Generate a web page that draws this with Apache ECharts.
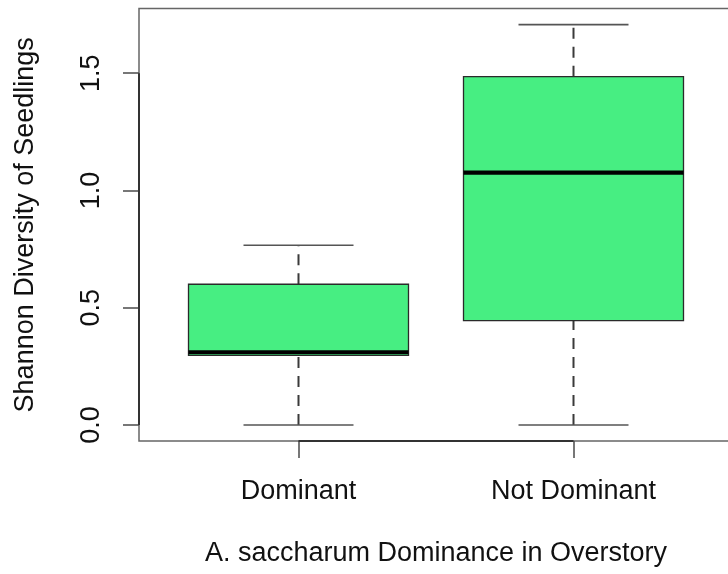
<!DOCTYPE html>
<html>
<head>
<meta charset="utf-8">
<script src="https://cdn.jsdelivr.net/npm/echarts@6/dist/echarts.min.js"></script>
<style>
html,body{margin:0;padding:0;background:#fff;}
#chart{width:728px;height:574px;}
</style>
</head>
<body>
<div id="chart"></div>
<script>
// ---- data ----
const categories = ['Dominant', 'Not Dominant'];
const lowerWhisker = [0.0, 0.0];
const q1Values = [0.297, 0.445];
const medianValues = [0.31, 1.076];
const q3Values = [0.600, 1.485];
const upperWhisker = [0.766, 1.707];
const yTicks = [0, 0.5, 1.0, 1.5];
const yTickLabels = ['0.0', '0.5', '1.0', '1.5'];
const xTicks = [1, 2];

const xTitle = 'A. saccharum Dominance in Overstory';
const yTitle = 'Shannon Diversity of Seedlings';

const FONT = 'Liberation Sans, Arial, Helvetica, sans-serif';
const FS = 27;

const boxData = categories.map((c, i) => [xTicks[i], lowerWhisker[i], q1Values[i], medianValues[i], q3Values[i], upperWhisker[i]]);

const chart = echarts.init(document.getElementById('chart'), null, {renderer: 'canvas'});

function renderBox(params, api) {
  const x = api.value(0), lo = api.value(1), q1 = api.value(2), md = api.value(3), q3 = api.value(4), hi = api.value(5);
  const hw = 0.4, sw = 0.2;
  const pLo = api.coord([x, lo]), pQ1 = api.coord([x, q1]), pMd = api.coord([x, md]), pQ3 = api.coord([x, q3]), pHi = api.coord([x, hi]);
  const bl = api.coord([x - hw, q3]), br = api.coord([x + hw, q1]);
  const sl = api.coord([x - sw, lo])[0], sr = api.coord([x + sw, lo])[0];
  const ml = api.coord([x - hw, md])[0], mr = api.coord([x + hw, md])[0];
  const dashStyle = {stroke: '#3a3a3a', lineWidth: 2, lineDash: [11, 8], fill: null};
  const capStyle = {stroke: '#555', lineWidth: 1.6, fill: null};
  return {
    type: 'group',
    children: [
      {type: 'line', shape: {x1: pLo[0], y1: pLo[1], x2: pQ1[0], y2: pQ1[1]}, style: dashStyle},
      {type: 'line', shape: {x1: pQ3[0], y1: pQ3[1], x2: pHi[0], y2: pHi[1]}, style: dashStyle},
      {type: 'line', shape: {x1: sl, y1: pLo[1], x2: sr, y2: pLo[1]}, style: capStyle},
      {type: 'line', shape: {x1: sl, y1: pHi[1], x2: sr, y2: pHi[1]}, style: capStyle},
      {type: 'rect', shape: {x: bl[0], y: bl[1], width: br[0] - bl[0], height: br[1] - bl[1]},
        style: {fill: '#47EE82', stroke: '#2a2a2a', lineWidth: 1.3}},
      {type: 'line', shape: {x1: ml, y1: pMd[1], x2: mr, y2: pMd[1]}, style: {stroke: '#000', lineWidth: 4.2}}
    ]
  };
}

function renderAxes(params, api) {
  const y0 = api.coord([xTicks[0], yTicks[0]]);
  const yTop = api.coord([xTicks[0], yTicks[yTicks.length - 1]]);
  const bottomY = params.coordSys.y + params.coordSys.height;
  const leftX = params.coordSys.x;
  const xa = api.coord([xTicks[0], 0])[0], xb = api.coord([xTicks[xTicks.length - 1], 0])[0];
  const st = {stroke: '#333', lineWidth: 2, fill: null};
  return {
    type: 'group',
    children: [
      {type: 'line', shape: {x1: leftX, y1: y0[1], x2: leftX, y2: yTop[1]}, style: st},
      {type: 'line', shape: {x1: xa, y1: bottomY, x2: xb, y2: bottomY}, style: st}
    ]
  };
}

const option = {
  backgroundColor: '#fff',
  animation: false,
  grid: {left: 139, top: 8.6, width: 594, height: 432.4, outerBoundsMode: 'none', containLabel: false,
    show: true, borderColor: '#666', borderWidth: 1.5, backgroundColor: 'transparent'},
  xAxis: {
    type: 'value', min: 0.42, max: 2.58,
    splitLine: {show: false},
    axisLine: {show: false, onZero: false},
    axisTick: {show: true, customValues: xTicks, length: 17, lineStyle: {color: '#555', width: 1.6}},
    axisLabel: {customValues: xTicks, formatter: v => categories[Math.round(v) - 1] || '', margin: 37,
      color: '#111', fontSize: FS, fontFamily: FONT},
    name: xTitle, nameLocation: 'middle', nameGap: 99,
    nameTextStyle: {color: '#111', fontSize: FS, fontFamily: FONT}
  },
  yAxis: {
    type: 'value', min: -0.0683, max: 1.7753,
    splitLine: {show: false},
    axisLine: {show: false, onZero: false},
    axisTick: {show: true, customValues: yTicks, length: 16, lineStyle: {color: '#555', width: 1.6}},
    axisLabel: {customValues: yTicks, formatter: v => { const i = yTicks.findIndex(t => Math.abs(t - v) < 1e-6); return i >= 0 ? yTickLabels[i] : ''; },
      rotate: 90, margin: 34, color: '#111', fontSize: FS, fontFamily: FONT},
    name: yTitle, nameLocation: 'middle', nameGap: 100, nameRotate: 90,
    nameTextStyle: {color: '#111', fontSize: FS, fontFamily: FONT}
  },
  series: [
    {type: 'custom', renderItem: renderAxes, data: [[0]], silent: true, clip: false, z: 3},
    {type: 'custom', renderItem: renderBox, data: boxData, encode: {x: 0, y: [1, 2, 3, 4, 5]}, silent: true, z: 2}
  ]
};
chart.setOption(option);
</script>
</body>
</html>
